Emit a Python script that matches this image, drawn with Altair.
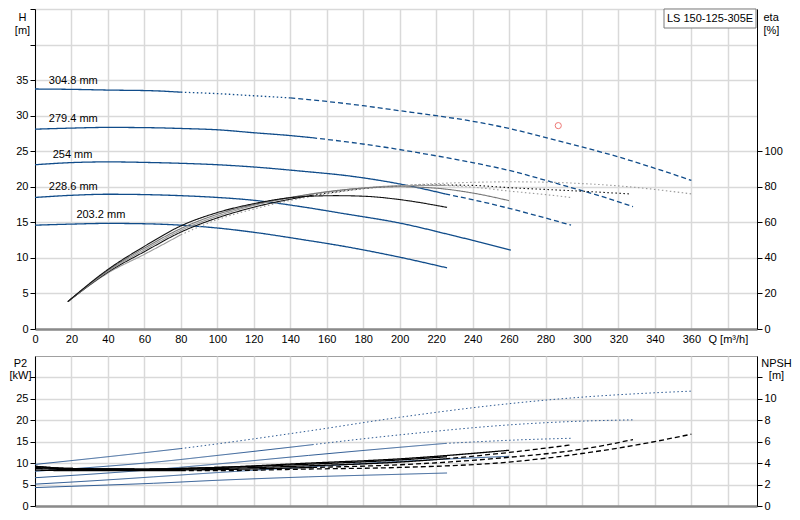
import altair as alt
import pandas as pd

FONT = "Liberation Sans"
W = 722
H_TOP = 320
H_BOT = 150
BLUE = "#104c8a"
P2_BLUE = "#2d5a93"
GRID = "#d9d9d9"

impellers = ["304.8 mm", "279.4 mm", "254 mm", "228.6 mm", "203.2 mm"]

# ---------------- head curves H [m] ----------------
h_q = {
    "304.8 mm": [0, 20, 40, 65, 80, 100, 120, 140, 160, 180, 200, 220, 238, 260, 276, 300, 320, 340, 360],
    "279.4 mm": [0, 20, 40, 65, 80, 101, 120, 140, 152, 170, 191, 210, 238, 260, 287, 310, 328],
    "254 mm": [0, 20, 40, 65, 80, 100, 119, 146, 173, 200, 225, 250, 270, 294],
    "228.6 mm": [0, 20, 40, 60, 80, 100, 120, 146, 170, 200, 230, 261],
    "203.2 mm": [0, 20, 40, 60, 80, 100, 120, 146, 170, 200, 226],
}
h_val = {
    "304.8 mm": [33.75, 33.7, 33.6, 33.5, 33.3, 33.1, 32.8, 32.5, 32.0, 31.4, 30.7, 30.0, 29.3, 28.2, 27.2, 25.6, 24.2, 22.6, 20.9],
    "279.4 mm": [28.1, 28.25, 28.35, 28.3, 28.2, 28.0, 27.6, 27.2, 26.9, 26.35, 25.6, 24.8, 23.5, 22.3, 20.4, 18.7, 17.2],
    "254 mm": [23.1, 23.4, 23.5, 23.4, 23.3, 23.1, 22.8, 22.2, 21.5, 20.4, 19.0, 17.6, 16.3, 14.6],
    "228.6 mm": [18.5, 18.8, 18.95, 18.9, 18.75, 18.5, 18.1, 17.2, 16.2, 14.9, 13.1, 11.1],
    "203.2 mm": [14.6, 14.75, 14.85, 14.8, 14.6, 14.2, 13.6, 12.6, 11.6, 10.1, 8.6],
}

# ---------------- efficiency eta [%] ----------------
eta_q = {
    "304.8 mm": [18, 40, 60, 80, 100, 120, 140, 160, 180, 200, 220, 240, 260, 280, 300, 320, 340, 360],
    "279.4 mm": [18, 40, 60, 80, 100, 120, 140, 152, 180, 200, 220, 240, 260, 280, 300, 326],
    "254 mm": [18, 40, 60, 80, 100, 120, 140, 160, 180, 200, 225, 240, 260, 280, 294],
    "228.6 mm": [18, 40, 60, 80, 100, 120, 140, 160, 180, 200, 220, 240, 260],
    "203.2 mm": [18, 40, 60, 80, 100, 120, 146, 165, 182, 200, 226],
}
eta_val = {
    "304.8 mm": [15.4, 31.5, 42, 53, 61.5, 67.5, 72.3, 76, 78.8, 80.6, 81.8, 82.5, 82.8, 82.6, 81.8, 80.5, 78.5, 76],
    "279.4 mm": [15.4, 32, 43.5, 54.5, 62.5, 68.5, 73, 75.2, 79, 80.5, 81, 80.8, 79.5, 78.5, 77.5, 76],
    "254 mm": [15.4, 32.5, 44.5, 55.5, 63.5, 69.5, 73.8, 77, 79.3, 80.6, 80.8, 79.8, 77.6, 75.6, 74],
    "228.6 mm": [15.4, 33, 45.5, 56.5, 64.5, 70, 74, 77.2, 79.3, 80, 79.2, 76.5, 72.2],
    "203.2 mm": [15.4, 33.5, 46.5, 58, 65.5, 70.5, 74.4, 75, 74.6, 72.8, 68.4],
}
eta_colors = ["#9a9a9a", "#111111", "#9a9a9a", "#777777", "#111111"]

# ---------------- power P2 [kW] ----------------
p2_q = {
    "304.8 mm": [0, 40, 80, 100, 150, 200, 254, 300, 330, 360],
    "279.4 mm": [0, 40, 65, 100, 152, 200, 270, 300, 328],
    "254 mm": [0, 40, 65, 100, 150, 200, 225, 270, 294],
    "228.6 mm": [0, 40, 65, 100, 150, 200, 260],
    "203.2 mm": [0, 40, 65, 100, 150, 200, 226],
}
p2_val = {
    "304.8 mm": [9.7, 11.5, 13.4, 14.5, 17.5, 20.7, 23.6, 25.4, 26.2, 26.8],
    "279.4 mm": [8.1, 9.3, 10.2, 11.8, 14.3, 16.6, 19.2, 19.8, 20.1],
    "254 mm": [6.6, 7.7, 8.5, 9.8, 11.8, 13.7, 14.6, 15.5, 15.8],
    "228.6 mm": [5.1, 6.1, 6.8, 7.8, 9.1, 10.4, 11.6],
    "203.2 mm": [4.3, 4.9, 5.3, 6.0, 6.8, 7.4, 7.7],
}

# ---------------- NPSH [m] ----------------
npsh_q = {
    "304.8 mm": [0, 20, 60, 80, 100, 150, 200, 260, 300, 330, 360],
    "279.4 mm": [0, 20, 60, 100, 152, 200, 260, 300, 328],
    "254 mm": [0, 20, 60, 100, 150, 200, 225, 260, 294],
    "228.6 mm": [0, 20, 60, 100, 150, 200, 260],
    "203.2 mm": [0, 20, 60, 100, 150, 200, 226],
}
npsh_val = {
    "304.8 mm": [3.35, 3.3, 3.3, 3.3, 3.3, 3.45, 3.6, 4.1, 4.9, 5.7, 6.7],
    "279.4 mm": [3.5, 3.4, 3.35, 3.4, 3.6, 3.85, 4.55, 5.3, 6.2],
    "254 mm": [3.6, 3.45, 3.4, 3.5, 3.75, 4.1, 4.4, 5.0, 5.7],
    "228.6 mm": [3.7, 3.5, 3.45, 3.6, 4.0, 4.4, 5.2],
    "203.2 mm": [3.7, 3.5, 3.45, 3.6, 3.9, 4.3, 4.6],
}

# line-style ranges per impeller (Q from, Q to, style)
h_split = {
    "304.8 mm": [(0, 80, "solid"), (80, 140, "dot"), (140, 400, "dash")],
    "279.4 mm": [(0, 152, "solid"), (152, 400, "dash")],
    "254 mm": [(0, 225, "solid"), (225, 400, "dash")],
    "228.6 mm": [(0, 400, "solid")],
    "203.2 mm": [(0, 400, "solid")],
}
dot_split = {
    "304.8 mm": [(0, 80, "solid"), (80, 400, "dot")],
    "279.4 mm": [(0, 152, "solid"), (152, 400, "dot")],
    "254 mm": [(0, 225, "solid"), (225, 400, "dot")],
    "228.6 mm": [(0, 400, "solid")],
    "203.2 mm": [(0, 400, "solid")],
}
dash_split = {
    "304.8 mm": [(0, 80, "solid"), (80, 400, "dash")],
    "279.4 mm": [(0, 152, "solid"), (152, 400, "dash")],
    "254 mm": [(0, 225, "solid"), (225, 400, "dash")],
    "228.6 mm": [(0, 400, "solid")],
    "203.2 mm": [(0, 400, "solid")],
}

label_text = ["304.8 mm", "279.4 mm", "254 mm", "228.6 mm", "203.2 mm"]
label_q = [7.6, 7.6, 9.7, 7.6, 22.7]
label_h = [34.9, 29.6, 24.4, 19.9, 16.0]

duty_q = [287]
duty_h = [28.6]
model_name = "LS 150-125-305E"


def build(qd, vd, split):
    rows = []
    for name in impellers:
        qs, vs = qd[name], vd[name]
        for i, (a, b, style) in enumerate(split[name]):
            for q, v in zip(qs, vs):
                if a <= q <= b:
                    rows.append({"curve": name, "seg": f"{name}|{i}", "style": style, "q": q, "v": v})
    return pd.DataFrame(rows)


df_h = build(h_q, h_val, h_split)
df_eta = build(eta_q, eta_val, dot_split)
df_p2 = build(p2_q, p2_val, dot_split)
df_npsh = build(npsh_q, npsh_val, dash_split)
df_lab = pd.DataFrame({"q": label_q, "v": label_h, "label": label_text})
df_duty = pd.DataFrame({"q": duty_q, "v": duty_h})
df_model = pd.DataFrame({"t": [model_name]})

dash_scale = alt.Scale(domain=["solid", "dot", "dash"], range=[[1, 0], [1.5, 2.5], [5, 3]])
q_scale = alt.Scale(domain=[0, 396], nice=False, zero=False)
q_ticks = list(range(0, 381, 20))

X_TOP = alt.X(
    "q:Q", scale=q_scale,
    axis=alt.Axis(values=q_ticks, grid=True, ticks=False, title=None,
                  labelExpr="datum.value == 380 ? 'Q [m³/h]' : datum.label",
                  domainColor="#8a8a8a", domainWidth=2.5, labelPadding=4,
                  labelFlush=False, labelOverlap=False),
)
X_BOT = alt.X(
    "q:Q", scale=q_scale,
    axis=alt.Axis(values=q_ticks, grid=True, ticks=False, labels=False, title=None,
                  domainColor="#8a8a8a", domainWidth=2.5),
)

# ---------------- top panel ----------------
h_lines = alt.Chart(df_h).mark_line(color=BLUE, strokeWidth=1.3, interpolate="monotone").encode(
    x=X_TOP,
    y=alt.Y("v:Q", scale=alt.Scale(domain=[0, 45], nice=False),
            axis=alt.Axis(orient="left", values=list(range(0, 46, 5)),
                          labelExpr="datum.value > 35 ? '' : datum.label",
                          grid=True, tickSize=5, labelPadding=2,
                          title=["H", "[m]"], titleAngle=0, titleX=-13, titleY=2,
                          titleAlign="center", titleBaseline="top", titleLineHeight=13)),
    strokeDash=alt.StrokeDash("style:N", scale=dash_scale, legend=None),
    detail="seg:N",
)

eta_lines = alt.Chart(df_eta).mark_line(strokeWidth=1.1, interpolate="monotone").encode(
    x=X_TOP,
    y=alt.Y("v:Q", scale=alt.Scale(domain=[0, 180], nice=False),
            axis=alt.Axis(orient="right", values=list(range(0, 101, 20)), grid=False,
                          tickSize=5, labelPadding=2,
                          title=["eta", "[%]"], titleAngle=0, titleX=6, titleY=2,
                          titleAlign="left", titleBaseline="top", titleLineHeight=13)),
    color=alt.Color("curve:N", scale=alt.Scale(domain=impellers, range=eta_colors), legend=None),
    strokeDash=alt.StrokeDash("style:N", scale=dash_scale, legend=None),
    detail="seg:N",
)

labels = alt.Chart(df_lab).mark_text(align="left", baseline="middle", font=FONT, fontSize=11, color="black").encode(
    x=X_TOP,
    y=alt.Y("v:Q", scale=alt.Scale(domain=[0, 45], nice=False), axis=None),
    text="label:N",
)

duty = alt.Chart(df_duty).mark_point(shape="circle", filled=False, color="#e8413c", size=38, strokeWidth=1).encode(
    x=X_TOP,
    y=alt.Y("v:Q", scale=alt.Scale(domain=[0, 45], nice=False), axis=None),
)

box = alt.Chart(df_model).mark_rect(fill="white", stroke="#7a7a7a", strokeWidth=1).encode(
    x=alt.value(W - 93), x2=alt.value(W - 1), y=alt.value(0), y2=alt.value(19),
)
box_text = alt.Chart(df_model).mark_text(font=FONT, fontSize=11, color="black", align="center", baseline="middle").encode(
    x=alt.value(W - 47), y=alt.value(10), text="t:N",
)

top = alt.layer(h_lines, eta_lines, labels, duty, box, box_text).resolve_scale(y="independent").properties(
    width=W, height=H_TOP
)

# ---------------- bottom panel ----------------
p2_lines = alt.Chart(df_p2).mark_line(color=P2_BLUE, strokeWidth=1, interpolate="monotone").encode(
    x=X_BOT,
    y=alt.Y("v:Q", scale=alt.Scale(domain=[0, 35], nice=False),
            axis=alt.Axis(orient="left", values=list(range(0, 31, 5)),
                          labelExpr="datum.value > 25 ? '' : datum.label",
                          grid=True, tickSize=5, labelPadding=2,
                          title=["P2", "[kW]"], titleAngle=0, titleX=-15, titleY=1,
                          titleAlign="center", titleBaseline="top", titleLineHeight=12)),
    strokeDash=alt.StrokeDash("style:N", scale=dash_scale, legend=None),
    detail="seg:N",
)

npsh_lines = alt.Chart(df_npsh).mark_line(color="black", strokeWidth=1.3, interpolate="monotone").encode(
    x=X_BOT,
    y=alt.Y("v:Q", scale=alt.Scale(domain=[0, 14], nice=False),
            axis=alt.Axis(orient="right", values=list(range(0, 13, 2)), grid=False,
                          labelExpr="datum.value > 10 ? '' : datum.label",
                          tickSize=5, labelPadding=2,
                          title=["NPSH", "[m]"], titleAngle=0, titleX=19, titleY=1,
                          titleAlign="center", titleBaseline="top", titleLineHeight=12)),
    strokeDash=alt.StrokeDash("style:N", scale=dash_scale, legend=None),
    detail="seg:N",
)

bottom = alt.layer(p2_lines, npsh_lines).resolve_scale(y="independent").properties(width=W, height=H_BOT)

chart = alt.vconcat(top, bottom, spacing=10).properties(
    padding=0, background="white"
).configure_view(
    stroke="#a0a0a0", strokeWidth=1
).configure_axis(
    labelFont=FONT, titleFont=FONT, labelFontSize=11, titleFontSize=11,
    titleFontWeight="normal", labelColor="black", titleColor="black",
    domainColor="black", tickColor="black", gridColor=GRID, gridWidth=1.5,
)

chart.save("out.html", embed_options={"renderer": "svg", "actions": False})
